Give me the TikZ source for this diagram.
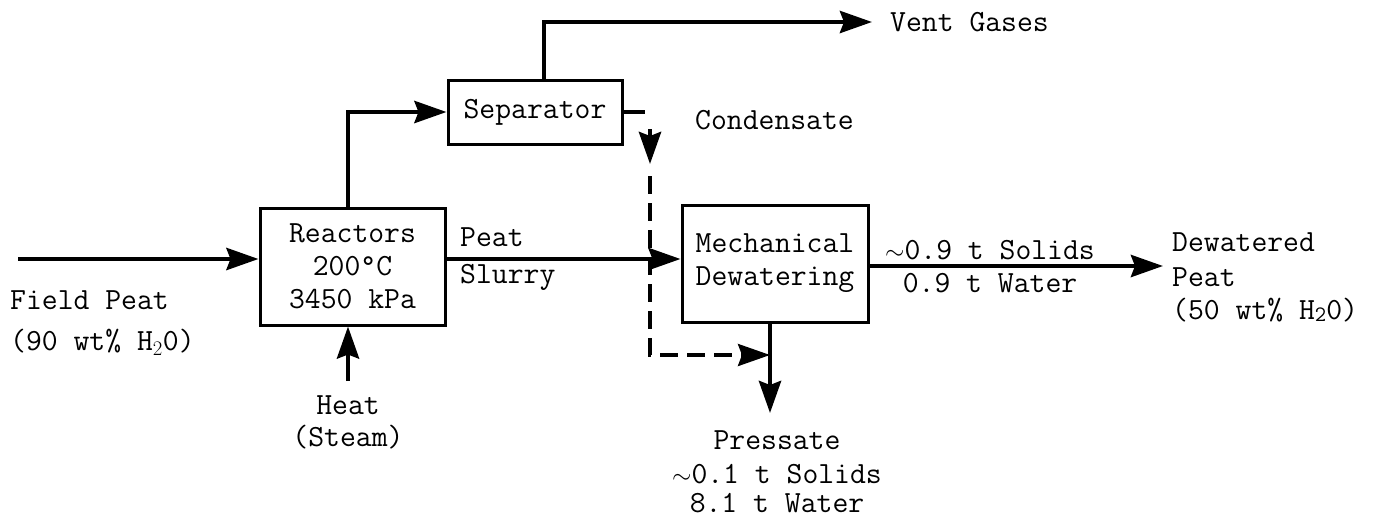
\documentclass[tikz,border=0pt]{standalone}
\usetikzlibrary{arrows.meta}
\begin{document}
\begin{tikzpicture}[x=1pt,y=-1pt,
  txt/.style={font=\fontsize{30.8}{33}\selectfont\ttfamily, inner sep=0pt, align=center},
  box/.style={draw, line width=3pt, txt},
  flow/.style={line width=4.5pt, -{Stealth[length=32pt,width=22pt,inset=4pt]}},
  plain/.style={line width=4.5pt},
  dflow/.style={line width=3.5pt, dash pattern=on 18pt off 9pt, -{Stealth[length=32pt,width=22pt,inset=4pt]}}]
\useasboundingbox (0,0) rectangle (1389,520);

% boxes
\node[box, minimum width=185pt, minimum height=117pt] (react) at (352.5,266.5) {Reactors\\200\textdegree C\\3450 kPa};
\node[box, minimum width=174pt, minimum height=64pt] (sep) at (535,112) {Separator};
\node[box, minimum width=186pt, minimum height=117pt] (mech) at (775,263.5) {Mechanical\\Dewatering};

% labels
\node[txt, anchor=west] (field) at (10,300) {Field Peat};
\node[txt, anchor=west] (fieldw) at (10,342) {(90 wt\% H$_2$0)};
\node[txt] (heat) at (348,405) {Heat};
\node[txt] (steam) at (348,437) {(Steam)};
\node[txt, anchor=west] (vent) at (890,22) {Vent Gases};
\node[txt, anchor=west] (cond) at (695,120) {Condensate};
\node[txt, anchor=west] (peat) at (460,237) {Peat};
\node[txt, anchor=west] (slurry) at (460,277) {Slurry};
\node[txt] (sol9) at (990,250) {$\sim$0.9 t Solids};
\node[txt] (wat9) at (990,283) {0.9 t Water};
\node[txt, anchor=west] (dew) at (1172,242) {Dewatered};
\node[txt, anchor=west] (dpeat) at (1172,277) {Peat};
\node[txt, anchor=west] (dw) at (1172,310) {(50 wt\% H\raisebox{-2pt}{\fontsize{22}{22}\selectfont 2}0)};
\node[txt] (press) at (777,440) {Pressate};
\node[txt] (sol1) at (777,474) {$\sim$0.1 t Solids};
\node[txt] (wat1) at (777,503) {8.1 t Water};

% coordinates
\coordinate (inL) at (18,259);
\coordinate (heatS) at (348,381);
\coordinate (ventE) at (872,22);
\coordinate (cA) at (650,129);
\coordinate (cB) at (650,164);
\coordinate (cC) at (650,176);
\coordinate (cD) at (650,355);
\coordinate (pressE) at (770,413);
\coordinate (outE) at (1163,266);

% connectors
\draw[flow] (inL) -- (inL -| react.west);
\draw[flow] (heatS) -- (heatS |- react.south);
\draw[flow] (react.north -| heatS) |- (sep.west);
\draw[flow] (sep.north -| 544,0) |- (ventE);
\draw[plain] (sep.east) -- ++(21,0);
\draw[flow] (cA) -- (cB);
\draw[dflow] (cC) -- (cD) -- (cD -| pressE);
\draw[flow] (react.east |- inL) -- (mech.west |- inL);
\draw[flow] (mech.south -| pressE) -- (pressE);
\draw[flow] (mech.east |- outE) -- (outE);
\end{tikzpicture}
\end{document}
